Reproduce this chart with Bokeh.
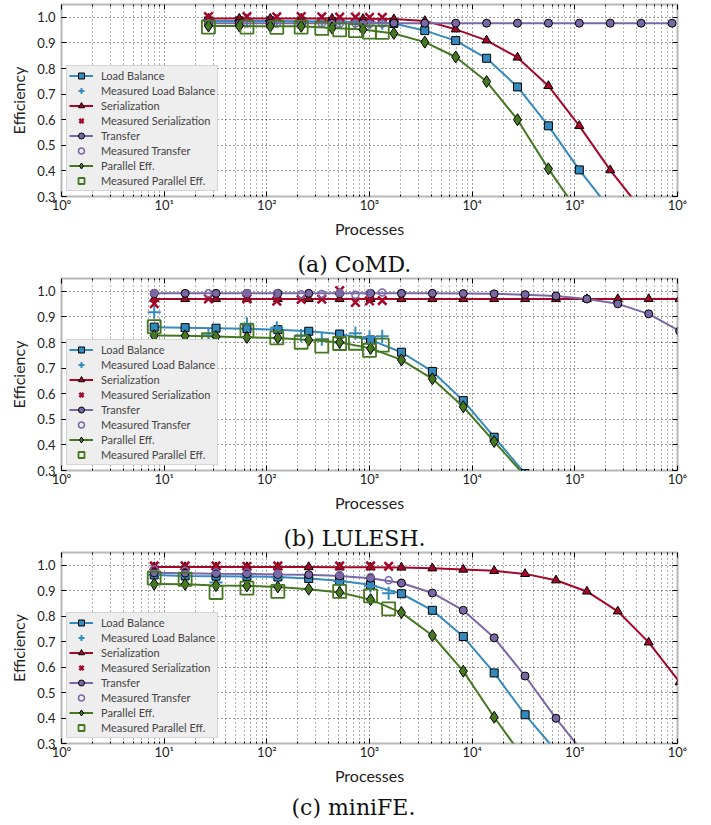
from bokeh.plotting import figure
from bokeh.layouts import column
from bokeh.models import (Range1d, FixedTicker, Legend, LegendItem, Title,
                          LinearAxis, LogAxis, NumeralTickFormatter)
from bokeh.embed import file_html
from bokeh.resources import INLINE

# ---------------- tick labels ----------------
x_major_ticks = [1, 10, 100, 1000, 10000, 100000, 1000000]
x_tick_labels = ["10\u2070", "10\u00b9", "10\u00b2", "10\u00b3", "10\u2074", "10\u2075", "10\u2076"]
y_ticks = [0.3, 0.4, 0.5, 0.6, 0.7, 0.8, 0.9, 1.0]

series_names = ["Load Balance", "Measured Load Balance", "Serialization",
                "Measured Serialization", "Transfer", "Measured Transfer",
                "Parallel Eff.", "Measured Parallel Eff."]
captions = ["(a) CoMD.", "(b) LULESH.", "(c) miniFE."]

# ---------------- (a) CoMD ----------------
comd_model_x = [27, 54, 108, 216, 432, 864, 1728, 3456, 6912, 13824, 27648,
                55296, 110592, 221184, 442368, 884736]
comd_lb = [0.986, 0.986, 0.986, 0.985, 0.984, 0.981, 0.976, 0.948, 0.909,
           0.840, 0.728, 0.576, 0.404, 0.250]
comd_ser = [0.995, 0.995, 0.995, 0.995, 0.995, 0.994, 0.993, 0.986, 0.953,
            0.910, 0.843, 0.732, 0.576, 0.403, 0.250]
comd_tr = [0.977, 0.977, 0.977, 0.977, 0.977, 0.977, 0.977, 0.977, 0.977,
           0.977, 0.977, 0.977, 0.977, 0.977, 0.977, 0.977]
comd_par = [0.966, 0.966, 0.965, 0.965, 0.958, 0.952, 0.937, 0.903, 0.845,
            0.749, 0.600, 0.408, 0.234]
comd_meas_x = [27, 64, 125, 216, 343, 512, 729, 1000, 1331]
comd_meas_lb = [0.988, 0.988, 0.987, 0.987, 0.986, 0.984, 0.982, 0.980, 0.977]
comd_meas_ser = [1.003, 1.003, 1.002, 1.003, 1.002, 1.001, 1.001, 1.000, 1.000]
comd_meas_tr = [0.977, 0.976, 0.976, 0.975, 0.976, 0.975, 0.976, 0.974, 0.975]
comd_meas_par = [0.962, 0.962, 0.961, 0.962, 0.957, 0.951, 0.948, 0.942, 0.941]

# ---------------- (b) LULESH ----------------
lulesh_model_x = [8, 16, 32, 64, 128, 256, 512, 1024, 2048, 4096, 8192, 16384,
                  32768, 65536, 131072, 262144, 524288, 1048576]
lulesh_lb = [0.860, 0.858, 0.856, 0.854, 0.850, 0.844, 0.833, 0.810, 0.762,
             0.687, 0.573, 0.430, 0.288]
lulesh_ser = [0.970, 0.970, 0.970, 0.970, 0.970, 0.970, 0.970, 0.970, 0.970,
              0.970, 0.970, 0.970, 0.970, 0.970, 0.970, 0.970, 0.970, 0.970]
lulesh_tr = [0.992, 0.992, 0.992, 0.992, 0.992, 0.992, 0.992, 0.992, 0.992,
             0.992, 0.991, 0.990, 0.987, 0.982, 0.970, 0.951, 0.912, 0.845]
lulesh_par = [0.827, 0.826, 0.823, 0.820, 0.818, 0.810, 0.801, 0.777, 0.732,
              0.658, 0.549, 0.413, 0.279]
lulesh_meas_x = [8, 27, 64, 125, 216, 343, 512, 729, 1000, 1331]
lulesh_meas_lb = [0.918, 0.828, 0.873, 0.858, 0.827, 0.813, 0.800, 0.836, 0.821, 0.824]
lulesh_meas_ser = [0.952, 0.970, 0.970, 0.962, 0.968, 0.969, 1.003, 0.957, 0.963, 0.964]
lulesh_meas_tr = [0.993, 0.992, 0.992, 0.991, 0.988, 0.989, 0.993, 0.987, 0.992, 0.995]
lulesh_meas_par = [0.862, 0.811, 0.846, 0.818, 0.801, 0.786, 0.796, 0.797, 0.769, 0.790]

# ---------------- (c) miniFE ----------------
minife_model_x = [8, 16, 32, 64, 128, 256, 512, 1024, 2048, 4096, 8192, 16384,
                  32768, 65536, 131072, 262144, 524288, 1048576]
minife_lb = [0.962, 0.958, 0.957, 0.956, 0.954, 0.948, 0.939, 0.923, 0.888,
             0.823, 0.720, 0.577, 0.413, 0.271]
minife_ser = [0.993, 0.993, 0.993, 0.993, 0.993, 0.993, 0.992, 0.992, 0.991,
              0.988, 0.983, 0.978, 0.966, 0.941, 0.897, 0.819, 0.697, 0.541]
minife_tr = [0.970, 0.969, 0.967, 0.966, 0.964, 0.963, 0.958, 0.949, 0.930,
             0.891, 0.823, 0.715, 0.565, 0.399, 0.246]
minife_par = [0.926, 0.925, 0.920, 0.919, 0.915, 0.906, 0.893, 0.865, 0.814,
              0.724, 0.584, 0.403, 0.236]
minife_meas_x = [8, 16, 32, 64, 128, 512, 1024, 1536]
minife_meas_lb = [0.962, 0.958, 0.932, 0.955, 0.952, 0.937, 0.918, 0.890]
minife_meas_ser = [0.997, 0.997, 0.997, 0.996, 0.997, 0.997, 0.997, 0.996]
minife_meas_tr = [0.984, 0.978, 0.972, 0.971, 0.968, 0.962, 0.954, 0.941]
minife_meas_par = [0.949, 0.945, 0.893, 0.910, 0.897, 0.897, 0.880, 0.829]

BLUE = "#348ABD"
RED = "#A60628"
PURPLE = "#7A68A6"
GREEN = "#467821"

x_minor_ticks = [m * d for d in [1, 10, 100, 1000, 10000, 100000] for m in range(2, 10)]


def caption_title(text, offset, standoff):
    return Title(text=text, align="left", offset=offset, standoff=standoff,
                 text_font="DejaVu Serif", text_font_size="22px",
                 text_font_style="normal", text_color="#111111")


def make_panel(height, border_top, border_bottom, mx, lb, ser, tr, par,
               meas_x, mlb, mser, mtr, mpar):
    p = figure(width=711, height=height, x_axis_type="log",
               x_range=Range1d(1, 1e6), y_range=Range1d(0.3, 1.05),
               output_backend="svg", toolbar_location=None,
               min_border_left=61, min_border_right=34,
               min_border_top=border_top, min_border_bottom=border_bottom)
    p.background_fill_color = "white"
    p.border_fill_color = "white"
    p.outline_line_color = "#b8b8b8"
    p.outline_line_width = 2

    # grid
    p.xgrid.grid_line_color = "black"
    p.xgrid.grid_line_dash = "1 3"
    p.xgrid.grid_line_alpha = 0.8
    p.xgrid.minor_grid_line_color = "black"
    p.xgrid.minor_grid_line_dash = "1 3"
    p.xgrid.minor_grid_line_alpha = 0.6
    p.ygrid.grid_line_color = "black"
    p.ygrid.grid_line_dash = "1 3"
    p.ygrid.grid_line_alpha = 0.8

    xt = FixedTicker(ticks=x_major_ticks, minor_ticks=x_minor_ticks)
    yt = FixedTicker(ticks=y_ticks, minor_ticks=[])
    p.xaxis.ticker = xt
    p.yaxis.ticker = yt
    p.xaxis.major_label_overrides = {t: l for t, l in zip(x_major_ticks, x_tick_labels)}
    p.yaxis.formatter = NumeralTickFormatter(format="0.0")

    for ax in (p.xaxis[0], p.yaxis[0]):
        ax.axis_line_color = None
        ax.major_tick_in = 5
        ax.major_tick_out = 0
        ax.minor_tick_in = 2
        ax.minor_tick_out = 0
        ax.major_tick_line_color = "black"
        ax.minor_tick_line_color = "black"
        ax.major_label_text_font = "Lato"
        ax.major_label_text_font_size = "13px"
        ax.major_label_text_color = "#222222"
        ax.axis_label_text_font = "Lato"
        ax.axis_label_text_font_size = "16px"
        ax.axis_label_text_font_style = "normal"
        ax.axis_label_text_color = "#222222"
    p.xaxis.axis_label = "Processes"
    p.yaxis.axis_label = "Efficiency"
    p.xaxis.major_label_standoff = 0
    p.xaxis.axis_label_standoff = 3
    p.yaxis.major_label_standoff = 6
    p.yaxis.axis_label_standoff = 6

    top = LogAxis(ticker=xt, major_label_text_font_size="0px", major_label_standoff=0,
                  axis_line_color=None, major_tick_in=5, major_tick_out=0,
                  minor_tick_in=2, minor_tick_out=0)
    top.major_label_overrides = {t: "" for t in x_major_ticks}
    right = LinearAxis(ticker=yt, major_label_text_font_size="0px", major_label_standoff=0,
                       axis_line_color=None, major_tick_in=5, major_tick_out=0,
                       minor_tick_in=0, minor_tick_out=0)
    right.major_label_overrides = {t: "" for t in y_ticks}
    p.add_layout(top, "above")
    p.add_layout(right, "right")

    # series
    r1l = p.line(mx[:len(lb)], lb, line_color=BLUE, line_width=2)
    r1m = p.scatter(mx[:len(lb)], lb, marker="square", size=8, fill_color=BLUE,
                    line_color="black", line_width=1)
    r2 = p.scatter(meas_x, mlb, marker="cross", size=13, line_color=BLUE, line_width=2)
    r3l = p.line(mx[:len(ser)], ser, line_color=RED, line_width=2)
    r3m = p.scatter(mx[:len(ser)], ser, marker="triangle", size=9, fill_color=RED,
                    line_color="black", line_width=1)
    r4 = p.scatter(meas_x, mser, marker="x", size=12, line_color=RED, line_width=2.5)
    r5l = p.line(mx[:len(tr)], tr, line_color=PURPLE, line_width=2)
    r5m = p.scatter(mx[:len(tr)], tr, marker="circle", size=8, fill_color=PURPLE,
                    line_color="black", line_width=1)
    r6 = p.scatter(meas_x, mtr, marker="circle", size=7, fill_color=None,
                   line_color=PURPLE, line_width=1.5)
    r7l = p.line(mx[:len(par)], par, line_color=GREEN, line_width=2)
    r7m = p.scatter(mx[:len(par)], par, marker="diamond", size=12, fill_color=GREEN,
                    line_color="black", line_width=1)
    r8 = p.scatter(meas_x, mpar, marker="square", size=13, fill_color=None,
                   line_color=GREEN, line_width=1.8)

    groups = [[r1l, r1m], [r2], [r3l, r3m], [r4], [r5l, r5m], [r6], [r7l, r7m], [r8]]
    items = [LegendItem(label=n, renderers=g) for n, g in zip(series_names, groups)]
    legend = Legend(items=items, location=(5, 5))
    legend.background_fill_color = "#eeeeee"
    legend.background_fill_alpha = 1.0
    legend.border_line_color = "#bcbcbc"
    legend.border_line_width = 1
    legend.label_text_font = "Lato"
    legend.label_text_font_size = "11px"
    legend.label_text_color = "#444444"
    legend.glyph_width = 24
    legend.glyph_height = 15
    legend.label_height = 15
    legend.spacing = 0
    legend.padding = 2
    legend.margin = 0
    legend.label_standoff = 8
    p.add_layout(legend)
    return p


p1 = make_panel(247, 4, 51, comd_model_x, comd_lb, comd_ser, comd_tr, comd_par,
                comd_meas_x, comd_meas_lb, comd_meas_ser, comd_meas_tr, comd_meas_par)
p2 = make_panel(274, 31, 51, lulesh_model_x, lulesh_lb, lulesh_ser, lulesh_tr, lulesh_par,
                lulesh_meas_x, lulesh_meas_lb, lulesh_meas_ser, lulesh_meas_tr, lulesh_meas_par)
p3 = make_panel(304, 31, 81, minife_model_x, minife_lb, minife_ser, minife_tr, minife_par,
                minife_meas_x, minife_meas_lb, minife_meas_ser, minife_meas_tr, minife_meas_par)

# captions: (a) sits above panel (b), (b) above panel (c), (c) below panel (c)
p2.add_layout(caption_title(captions[0], 236, 4), "above")
p3.add_layout(caption_title(captions[1], 222, 4), "above")
p3.add_layout(caption_title(captions[2], 230, 11), "below")

layout = column(p1, p2, p3, spacing=0)
open("out.html", "w").write(file_html(layout, INLINE))
